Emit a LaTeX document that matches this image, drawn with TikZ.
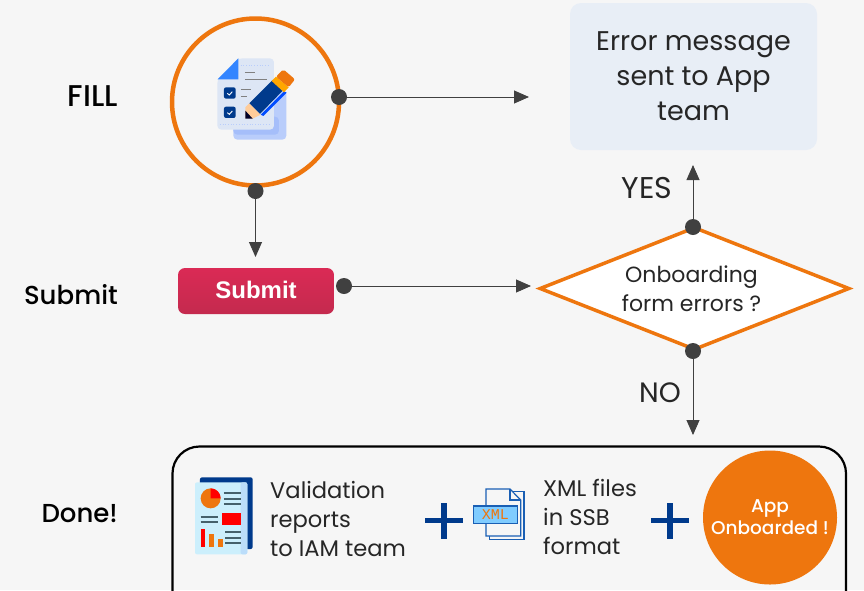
\documentclass[tikz,border=0pt]{standalone}
\usepackage{fontspec}
\setmainfont{Poppins}
\newfontfamily\labelfont[UprightFont=* Medium]{Poppins}
\newfontfamily\buttonfont{Liberation Sans}
\newfontfamily\tagfont{Liberation Mono}
\usetikzlibrary{arrows.meta,shapes.geometric}
\definecolor{pagebg}{HTML}{F6F6F6}
\definecolor{ringorange}{HTML}{EE760E}
\definecolor{errorbg}{HTML}{E8EEF6}
\definecolor{dotgray}{HTML}{404040}
\definecolor{plusblue}{HTML}{003A8C}
\definecolor{sheet}{HTML}{DDE6F5}
\definecolor{sheetback}{HTML}{B9CDFB}
\definecolor{sheetmid}{HTML}{A5BEFA}
\definecolor{reportline}{HTML}{45616B}
\definecolor{reportstrip}{HTML}{BBDDFA}
\definecolor{buttontop}{HTML}{DA2A55}
\definecolor{buttonbottom}{HTML}{C42A4E}
\definecolor{xmlblue}{HTML}{1A5FB4}
\begin{document}
\begin{tikzpicture}[
    x=1pt, y=-1pt,
    link/.style={line width=0.9pt, draw=dotgray, -{Triangle[length=15pt, width=13pt]}},
    dot/.style={circle, fill=dotgray, minimum size=16pt, inner sep=0pt},
    steplabel/.style={anchor=east, inner sep=0pt, font=\labelfont\fontsize{26}{30}\selectfont, text=black},
    bodytext/.style={font=\fontsize{22.6}{29}\selectfont, text=black!85, align=left, anchor=west, inner sep=0pt},
    answer/.style={font=\fontsize{28}{32}\selectfont, text=black!85},
    plussign/.style={line width=5.5pt, draw=plusblue}
  ]
    % Page
    \useasboundingbox (0,0) rectangle (864,590);
    \clip (0,0) rectangle (864,590);
    \fill[pagebg] (0,0) rectangle (864,590);

    % Left labels
    \node[steplabel] (fill label) at (118,96) {\fontsize{30}{30}\selectfont FILL};
    \node[steplabel] (submit label) at (118,295) {Submit};
    \node[steplabel] (done label) at (118,514) {Done!};

    % Main shapes
    \node[circle, draw=ringorange, line width=4.5pt, minimum size=167pt, inner sep=0pt] (fill ring) at (255.5,102) {};
    \node[rectangle, rounded corners=11pt, fill=errorbg, minimum width=247pt, minimum height=147pt,
      align=center, font=\fontsize{27}{35}\selectfont, text=black!85] (error box) at (693.5,76.5) {Error message\\sent to App\\team};
    \node[rectangle, rounded corners=7pt, top color=buttontop, bottom color=buttonbottom,
      minimum width=156pt, minimum height=46pt, font=\buttonfont\fontsize{24}{24}\selectfont\bfseries, text=white] (submit button) at (256,291) {\raisebox{2pt}{Submit}};
    \node[diamond, draw=ringorange, fill=white, line width=3.5pt, minimum width=310pt, minimum height=123pt, inner sep=0pt,
      aspect=2.5] (errors check) at (694.5,288.5) {};
    \node[align=center, font=\fontsize{22}{29}\selectfont, text=black!85] (errors text) at (691.5,289) {Onboarding\\form errors ?};

    % Connectors
    \node[dot] (fill right) at (339,97) {};
    \node[dot] (fill bottom) at (255.5,191) {};
    \node[dot] (submit right) at (344,286) {};
    \node[dot] (check top) at (693,227) {};
    \node[dot] (check bottom) at (693,351) {};
    \coordinate (error in) at (529,97);
    \coordinate (submit in) at (255.5,257);
    \coordinate (check in) at (531,286);
    \coordinate (error bottom) at (693,165);
    \coordinate (done in) at (693,435);
    \draw[link] (fill right.center) -- (error in);
    \draw[link] (fill bottom.center) -- (submit in);
    \draw[link] (submit right.center) -- (check in);
    \draw[link] (check top.center) -- (error bottom);
    \draw[link] (check bottom.center) -- (done in);
    \node[answer, font=\fontsize{30}{32}\selectfont] (yes label) at (647,188) {YES};
    \node[answer] (no label) at (660,393) {NO};

    % Result box
    \draw[line width=2.2pt, rounded corners=27pt] (172.5,446.5) rectangle (846,620);
    \node[bodytext] (report text) at (270,519) {Validation\\reports\\to IAM team};
    \node[bodytext] (xml text) at (543,517) {XML files\\in SSB\\format};
    \node[circle, fill=ringorange, minimum size=134pt, inner sep=0pt, align=center,
      font=\labelfont\fontsize{18.5}{22}\selectfont, text=white] (onboarded) at (770,517.5) {App\\Onboarded !};
    \draw[plussign] (425,520.5) -- (463,520.5);
    \draw[plussign] (444,503) -- (444,539);
    \draw[plussign] (651,520.5) -- (689,520.5);
    \draw[plussign] (670,503) -- (670,539);

    % Form icon
    \begin{scope}[shift={(170,10)}, x=0.3333pt, y=-0.3333pt]
      \fill[sheetback, rounded corners=4pt] (190,240) rectangle (349,389);
      \fill[sheetmid, rounded corners=4pt] (190,320) rectangle (327,374);
      \fill[sheet, rounded corners=4pt] (142,208) -- (205,145) -- (312,145) -- (312,359) -- (142,359) -- cycle;
      \fill[blue!60!cyan!80!white] (143,208) -- (205,145) -- (205,208) -- cycle;
      \fill[plusblue, rounded corners=2pt] (162,232) rectangle (197,266);
      \fill[plusblue, rounded corners=2pt] (162,290) rectangle (197,324);
      \draw[white, line width=0.9pt] (172,250) -- (178,255) -- (187,245);
      \draw[white, line width=0.9pt] (172,308) -- (178,313) -- (187,303);
      \draw[gray, line width=0.9pt] (225,188) -- (254,188) (225,207) -- (290,207) (213,239) -- (243,239) (213,258) -- (232,258);
      \draw[sheetback, line width=0.7pt, dotted] (212,165) -- (300,165) (150,342) -- (300,342);
      % pencil
      \fill[plusblue] (238,280) -- (308,210) -- (340,240) -- (270,312) -- cycle;
      \fill[blue!70!cyan] (272,314) -- (342,244) -- (350,248) -- (280,318) -- cycle;
      \fill[orange!70!yellow] (305,213) -- (318,200) -- (356,232) -- (342,247) -- cycle;
      \fill[ringorange, rounded corners=2pt] (318,200) -- (340,178) -- (375,208) -- (356,232) -- cycle;
      \fill[orange!40!white] (238,280) -- (272,314) -- (248,326) -- (226,324) -- (226,292) -- cycle;
      \fill[black!85!blue] (226,302) -- (248,326) -- (226,326) -- cycle;
    \end{scope}

    % Report icon
    \begin{scope}[shift={(170,450)}, x=0.3333pt, y=-0.3333pt]
      \fill[plusblue, rounded corners=2pt] (90,82) rectangle (248,297);
      \fill[cyan!20!white, rounded corners=2pt] (75,97) rectangle (232,313);
      \fill[reportstrip, rounded corners=2pt] (212,97) rectangle (232,313);
      \fill[ringorange] (122,145) circle (30);
      \fill[red] (122,145) -- (122,115) arc[start angle=-90, end angle=0, radius=30] -- cycle;
      \fill[red] (156,190) rectangle (214,225);
      \fill[red] (92,238) rectangle (106,290);
      \fill[ringorange] (118,251) rectangle (132,290);
      \fill[ringorange] (144,266) rectangle (158,290);
      \draw[reportline, line width=2pt] (162,130) -- (214,130) (162,146) -- (214,146) (162,161) -- (214,161)
        (92,200) -- (145,200) (92,215) -- (145,215) (166,246) -- (214,246) (166,263) -- (214,263) (166,279) -- (214,279);
    \end{scope}

    % XML icon
    \begin{scope}[shift={(410,450)}, x=0.3333pt, y=-0.3333pt]
      \draw[xmlblue, fill=pagebg, line width=1.2pt] (238,125) rectangle (342,268);
      \draw[xmlblue, fill=pagebg, line width=1.2pt] (228,117) -- (300,117) -- (332,150) -- (332,258) -- (228,258) -- cycle;
      \draw[xmlblue, line width=1.2pt] (300,117) -- (300,150) -- (332,150);
      \draw[xmlblue, fill=blue!40!cyan!50!white, line width=1.4pt] (190,168) rectangle (322,220);
      \node[font=\tagfont\fontsize{15}{15}\selectfont, text=ringorange] (xml tag) at (256,194) {XML};
    \end{scope}
\end{tikzpicture}
\end{document}
